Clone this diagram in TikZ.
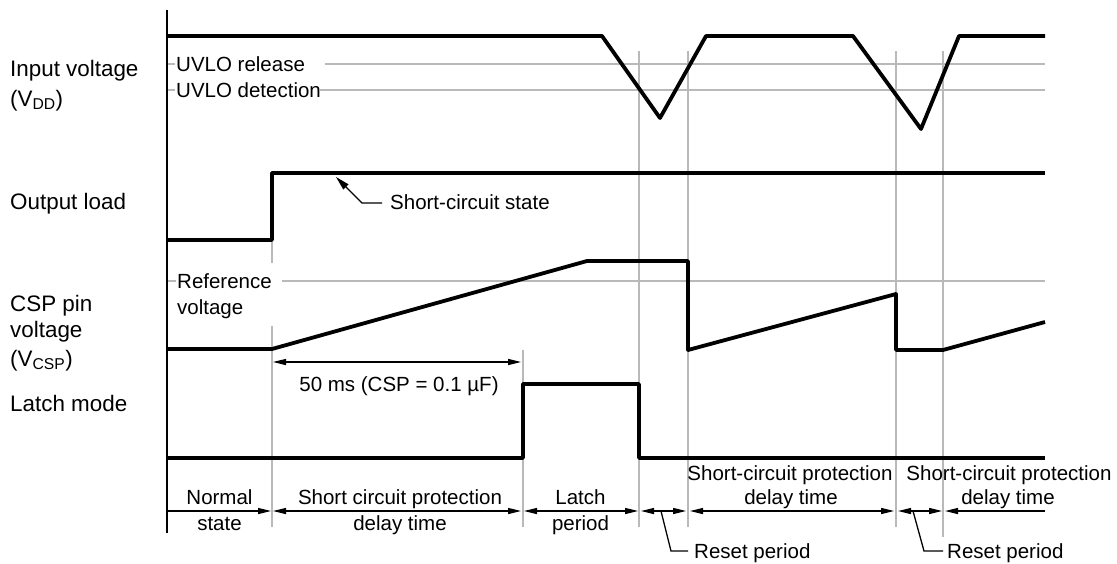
\documentclass[tikz,border=0pt]{standalone}
\usepackage{fontspec}
\setmainfont{Liberation Sans}
\usetikzlibrary{arrows.meta}
\definecolor{gridgray}{RGB}{185,185,185}
\newcommand\lblfont{\fontsize{20.5}{25}\selectfont}
\newcommand\sidefont{\fontsize{22.4}{27}\selectfont}
\tikzset{
  wave/.style={line width=3.8pt, line join=round},
  guide/.style={draw=gridgray, line width=1.3pt},
  axisline/.style={line width=2pt},
  tip/.tip={Triangle[length=13pt,width=6pt]},
  span/.style={line width=1.3pt, tip-tip},
  spanr/.style={line width=1.3pt, -tip},
  spanl/.style={line width=1.3pt, tip-},
  leader/.style={line width=1.3pt},
  lbl/.style={inner sep=0pt, anchor=base west, font=\lblfont},
  clbl/.style={inner sep=0pt, anchor=base, font=\lblfont},
  sig/.style={inner sep=0pt, anchor=base west, font=\sidefont},
}
\begin{document}
\begin{tikzpicture}[x=1pt,y=-1pt]
\useasboundingbox (0,0) rectangle (1117,563);

% threshold and timing guide lines
\draw[guide] (167,64) -- (175,64) (325,64) -- (1045,64);
\draw[guide] (167,90) -- (175,90) (320,90) -- (1045,90);
\draw[guide] (167,281) -- (176,281) (282,281) -- (1045,281);
\draw[guide] (272,240) -- (272,263) (272,326) -- (272,527);
\draw[guide] (523,350) -- (523,527);
\draw[guide] (639,51) -- (639,527);
\draw[guide] (688,51) -- (688,527);
\draw[guide] (896,51) -- (896,527);
\draw[guide] (943,51) -- (943,537);

% vertical axis
\draw[axisline] (167,10) -- (167,533);

% waveforms
\draw[wave] (167,36) -- (602,36) -- (660,118) -- (706,36) -- (853,36)
            -- (921,129) -- (959,36) -- (1045,36);
\draw[wave] (167,240) -- (272,240) -- (272,173) -- (1045,173);
\draw[wave] (167,349) -- (272,349) -- (587,261) -- (688,261) -- (688,350)
            -- (896,294) -- (896,350) -- (943,350) -- (1045,322);
\draw[wave] (167,458) -- (523,458) -- (523,384) -- (639,384) -- (639,458)
            -- (1045,458);

% signal names
\node[sig] (vin1) at (10,76) {Input voltage};
\node[sig] (vin2) at (10,106) {(V\textsubscript{DD})};
\node[sig] (load) at (10,209) {Output load};
\node[sig] (csp1) at (10,311.5) {CSP pin};
\node[sig] (csp2) at (10,337.5) {voltage};
\node[sig] (csp3) at (10,366) {(V\textsubscript{CSP})};
\node[sig] (latch) at (10,411) {Latch mode};

% threshold labels
\node[lbl] (uvr) at (176,71.5) {UVLO release};
\node[lbl] (uvd) at (176,97.5) {UVLO detection};
\node[lbl] (ref1) at (177,288) {Reference};
\node[lbl] (ref2) at (177,314) {voltage};

% short-circuit marker
\coordinate (scend) at (382,203);
\node[lbl] (sc) at (390,209.5) {Short-circuit state};
\draw[leader, {Triangle[length=14pt,width=7pt]}-] (336,177) -- (362,203) -- (scend);

% delay annotation
\draw[span] (273,362) -- (521,362);
\node[clbl] (delay) at (399,391.5) {50 ms (CSP = 0.1 µF)};

% period spans
\draw[spanr] (167,511) -- (271,511);
\draw[span] (273,511) -- (521,511);
\draw[span] (524,511) -- (638,511);
\draw[span] (641,511) -- (686,511);
\draw[span] (690,511) -- (894,511);
\draw[span] (898,511) -- (942,511);
\draw[spanl] (945,511) -- (1045,511);

\node[clbl] (n1) at (219.5,504) {Normal};
\node[clbl] (n2) at (219.5,530.5) {state};
\node[clbl] (d1) at (400,504) {Short circuit protection};
\node[clbl] (d2) at (400,530.5) {delay time};
\node[clbl] (l1) at (580.5,504) {Latch};
\node[clbl] (l2) at (580.5,530.5) {period};
\node[clbl] (s1) at (790,480.5) {Short-circuit protection};
\node[clbl] (s2) at (791,504) {delay time};
\node[clbl] (t1) at (1009,480.5) {Short-circuit protection};
\node[clbl] (t2) at (1008,504) {delay time};

% reset period callouts
\coordinate (r1end) at (688,551);
\coordinate (r2end) at (943,551);
\node[lbl] (r1) at (694,558) {Reset period};
\node[lbl] (r2) at (947,558) {Reset period};
\draw[leader] (661,511) -- (671,551) -- (r1end);
\draw[leader] (913,511) -- (924,551) -- (r2end);
\end{tikzpicture}
\end{document}
